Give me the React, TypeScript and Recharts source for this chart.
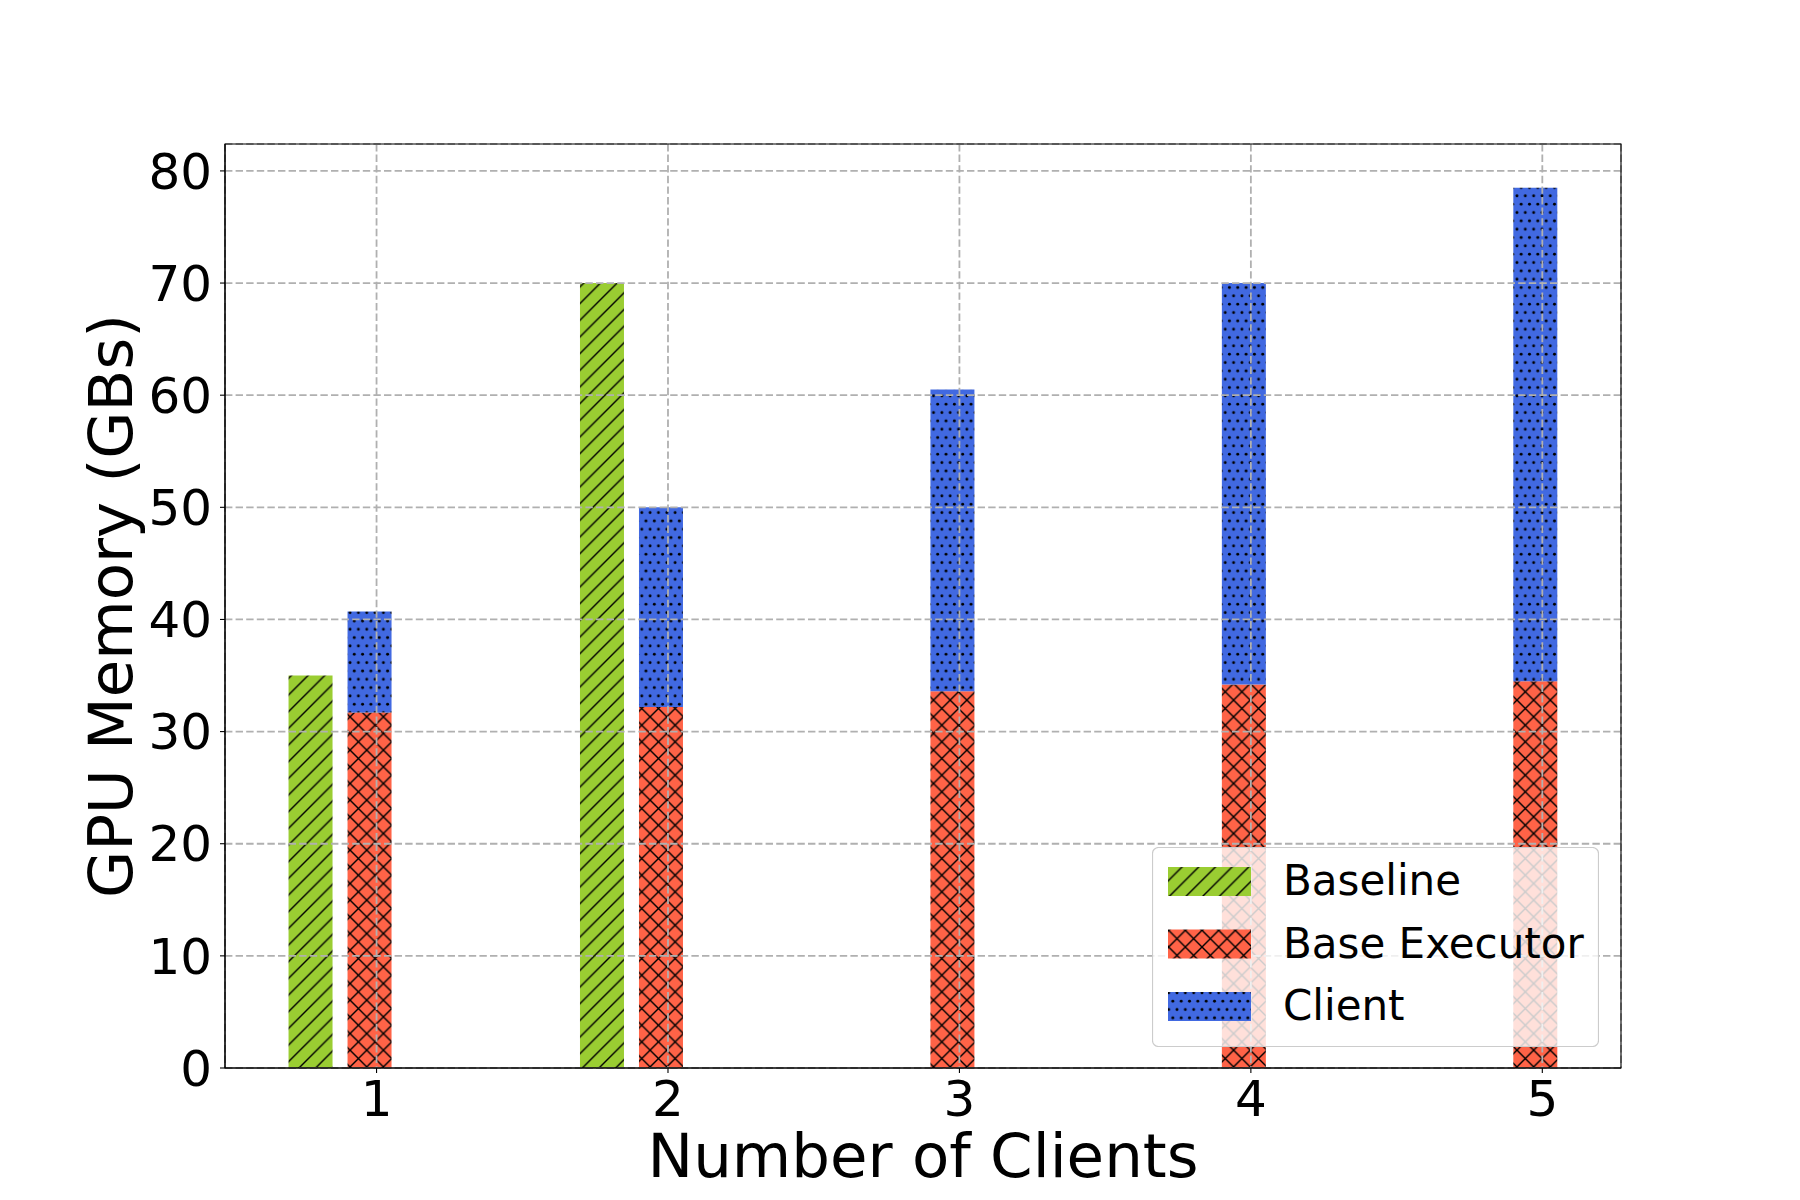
import React from "react";
import { BarChart, Bar, XAxis, YAxis, CartesianGrid, Legend, ReferenceArea } from "recharts";

// values
const clients = [1, 2, 3, 4, 5];
const baseline = [35, 70, null, null, null];
const baseExecutor = [31.7, 32.2, 33.6, 34.2, 34.5];
const clientMem = [9.0, 17.8, 26.9, 35.8, 44.0];
const yTicks = [0, 10, 20, 30, 40, 50, 60, 70, 80];
const seriesNames = ["Baseline", "Base Executor", "Client"];
const patternIds = ["hatchDiag", "hatchCross", "hatchDots"];

const data = clients.map((c, i) => ({
  clients: c,
  baseline: baseline[i],
  executor: baseExecutor[i],
  client: clientMem[i],
}));

const H = 16.67; // hatch spacing
const D = H / 2;

function Patterns() {
  return (
    <svg width={0} height={0} style={{ position: "absolute" }}>
      <defs>
        <pattern id="hatchDiag" patternUnits="userSpaceOnUse" width={H} height={H}>
          <rect width={H} height={H} fill="#9ACD32" />
          <path
            d={`M0,${H} L${H},0 M${-D},${D} L${D},${-D} M${D},${H + D} L${H + D},${D}`}
            stroke="#000"
            strokeWidth={1.4}
          />
        </pattern>
        <pattern id="hatchCross" patternUnits="userSpaceOnUse" width={H} height={H}>
          <rect width={H} height={H} fill="#FF6347" />
          <path
            d={`M0,${H} L${H},0 M0,0 L${H},${H} M${-D},${D} L${D},${-D} M${D},${H + D} L${H + D},${D} M${-D},${D} L${D},${H + D} M${D},${-D} L${H + D},${D}`}
            stroke="#000"
            strokeWidth={1.4}
          />
        </pattern>
        <pattern id="hatchDots" patternUnits="userSpaceOnUse" width={D} height={H}>
          <rect width={D} height={H} fill="#4169E1" />
          <circle cx={D / 2} cy={D / 2} r={1.45} fill="#000" />
          <circle cx={0} cy={D * 1.5} r={1.45} fill="#000" />
          <circle cx={D} cy={D * 1.5} r={1.45} fill="#000" />
        </pattern>
      </defs>
    </svg>
  );
}

function LegendBox() {
  return (
    <svg width={447} height={200} style={{ display: "block" }}>
      <rect x={0.5} y={0.5} width={446} height={199} rx={6} fill="rgba(255,255,255,0.8)" stroke="#cccccc" strokeWidth={1.2} />
      {seriesNames.map((name, i) => (
        <g key={name}>
          <rect x={16} y={20 + i * 62.5} width={83} height={29} fill={`url(#${patternIds[i]})`} />
          <text x={131} y={48 + i * 62.5} fontSize={42} fill="#000">
            {name}
          </text>
        </g>
      ))}
    </svg>
  );
}

const renderXLabel = (p: any) => {
  const vb = p.viewBox;
  return (
    <text x={vb.x + vb.width / 2} y={vb.y + vb.height - 23} textAnchor="middle" fontSize={61} fill="#000">
      Number of Clients
    </text>
  );
};

const renderYLabel = (p: any) => {
  const vb = p.viewBox;
  const cy = vb.y + vb.height / 2;
  return (
    <text x={132} y={cy} transform={`rotate(-90 132 ${cy})`} textAnchor="middle" fontSize={61} fill="#000">
      GPU Memory (GBs)
    </text>
  );
};

export default function App() {
  const xDomain = [0.48, 5.27];
  const yDomain = [0, 82.4];
  // bars sit slightly left of the ticks, as in the original
  const barDomain = [0.505, 5.295];
  return (
    <div style={{ fontFamily: "DejaVu Sans", background: "#fff", width: 1800, height: 1200 }}>
      <style>{"body{margin:0}"}</style>
      <Patterns />
      <BarChart
        width={1800}
        height={1200}
        data={data}
        margin={{ top: 144, right: 179, bottom: 0, left: 0 }}
        barGap={15}
        barSize={44}
      >
        <XAxis xAxisId="bars" dataKey="clients" type="number" domain={barDomain} ticks={clients} allowDataOverflow hide />

        <Bar xAxisId="bars" dataKey="baseline" stackId="b" fill="url(#hatchDiag)" isAnimationActive={false} />
        <Bar xAxisId="bars" dataKey="executor" stackId="s" fill="url(#hatchCross)" isAnimationActive={false} />
        <Bar xAxisId="bars" dataKey="client" stackId="s" fill="url(#hatchDots)" isAnimationActive={false} />
        <Bar xAxisId="bars" dataKey="phantom" stackId="p" fill="none" legendType="none" isAnimationActive={false} />

        <CartesianGrid stroke="#b0b0b0" strokeDasharray="7.4 3.2" strokeWidth={1.8} zIndex={350} />

        <XAxis
          dataKey="clients"
          type="number"
          domain={xDomain}
          ticks={clients}
          interval={0}
          allowDataOverflow
          height={132}
          tickSize={5}
          tickMargin={7}
          tick={{ fontSize: 50, fill: "#000" }}
          tickLine={{ stroke: "#000", strokeWidth: 1.1 }}
          axisLine={{ stroke: "#000", strokeWidth: 1.1 }}
          label={{ content: renderXLabel }}
        />
        <YAxis
          type="number"
          domain={yDomain}
          ticks={yTicks}
          interval={0}
          allowDataOverflow
          width={225}
          tickSize={5}
          tickMargin={8}
          tick={{ fontSize: 50, fill: "#000" }}
          tickLine={{ stroke: "#000", strokeWidth: 1.1 }}
          axisLine={{ stroke: "#000", strokeWidth: 1.1 }}
          label={{ content: renderYLabel }}
        />

        {/* axes frame */}
        <ReferenceArea
          x1={xDomain[0]}
          x2={xDomain[1]}
          y1={yDomain[0]}
          y2={yDomain[1]}
          fill="none"
          fillOpacity={0}
          stroke="#000"
          strokeWidth={1.1}
          strokeOpacity={1}
          ifOverflow="visible"
          zIndex={600}
        />

        <Legend
          layout="vertical"
          align="center"
          verticalAlign="middle"
          wrapperStyle={{ left: 1152, top: 847, width: 447, height: 200 }}
          content={() => <LegendBox />}
        />
      </BarChart>
    </div>
  );
}
